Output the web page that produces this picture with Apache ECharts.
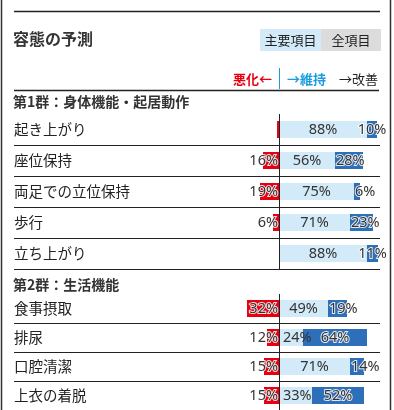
<!DOCTYPE html>
<html><head><meta charset="utf-8">
<script src="https://cdn.jsdelivr.net/npm/echarts@6/dist/echarts.min.js"></script>
<style>html,body{margin:0;padding:0;background:#fff}#c{width:394px;height:410px}</style>
</head><body><div id="c"></div>
<script>
const pageTitle = '容態の予測';
const tabs = ['主要項目', '全項目'];
const legendTexts = ['悪化←', '→維持', '→改善'];

const group1Title = '第1群：身体機能・起居動作';
const group1Items = ['起き上がり', '座位保持', '両足での立位保持', '歩行', '立ち上がり'];
const group1Worse = [2, 16, 19, 6, 0];
const group1Maintain = [88, 56, 75, 71, 88];
const group1Improve = [10, 28, 6, 23, 11];

const group2Title = '第2群：生活機能';
const group2Items = ['食事摂取', '排尿', '口腔清潔', '上衣の着脱'];
const group2Worse = [32, 12, 15, 15];
const group2Maintain = [49, 24, 71, 33];
const group2Improve = [19, 64, 14, 52];

const FONT = "'Noto Sans CJK JP', 'Noto Sans', sans-serif";
const NUMFONT = "'Noto Sans', sans-serif";
const RED = '#e60012', LIGHT = '#d3eaf8', DARK = '#2d6fb8', BLUE_TXT = '#1a9be0';
const LABEL_W = 29;   // approximate width of a "88%" label, in axis units (1 unit = 1px)
const RIGHT_LIMIT = 105;

const chart = echarts.init(document.getElementById('c'), null, {renderer: 'canvas'});

function pct(p) {
  const v = Math.abs(p.value);
  return v >= 5 ? v + '%' : '';
}
const baseLabel = {show: true, color: '#333', fontSize: 14.5, fontFamily: NUMFONT, formatter: pct};
const halo = {textBorderColor: 'rgba(255,255,255,0.85)', textBorderWidth: 2};

function makeSeries(idx, worse, maintain, improve) {
  const stack = 's' + idx;
  const maintainData = maintain.map(v => v < 35
    ? {value: v, label: {position: 'insideLeft', distance: 4}}
    : v);
  const improveData = improve.map((v, i) => {
    if (v >= LABEL_W || maintain[i] + LABEL_W > RIGHT_LIMIT) return v;
    return {value: v, label: {position: 'insideLeft', distance: 1}};
  });
  return [
    {
      type: 'bar', xAxisIndex: idx, yAxisIndex: idx, stack, barWidth: 17,
      data: worse.map(v => -v), itemStyle: {color: RED},
      label: Object.assign({}, baseLabel, halo, {position: 'insideRight', distance: 1}),
      animation: false
    },
    {
      type: 'bar', xAxisIndex: idx, yAxisIndex: idx, stack, barWidth: 17,
      data: maintainData, itemStyle: {color: LIGHT},
      label: Object.assign({}, baseLabel, {position: 'inside'}),
      markLine: {
        silent: true, symbol: ['none', 'none'], animation: false,
        label: {show: false},
        lineStyle: {color: '#222', type: 'solid', width: 1},
        data: [{xAxis: 0}]
      },
      animation: false
    },
    {
      type: 'bar', xAxisIndex: idx, yAxisIndex: idx, stack, barWidth: 17,
      data: improveData, itemStyle: {color: DARK},
      label: Object.assign({}, baseLabel, halo, {position: 'inside'}),
      animation: false
    }
  ];
}

function yAxisFor(idx, items) {
  return {
    type: 'category', gridIndex: idx, data: items, inverse: true,
    axisLine: {show: false, onZero: false}, axisTick: {show: false},
    axisLabel: {align: 'left', margin: 0, color: '#222', fontSize: 14.5, fontFamily: FONT, padding: [3, 0, 0, 0]},
    splitLine: {show: true, showMinLine: false, lineStyle: {color: '#222', width: 1}}
  };
}
function xAxisFor(idx) {
  return {type: 'value', gridIndex: idx, min: -265, max: 101, show: false};
}

const txt = (text, x, y, opts) => ({
  type: 'text', silent: true,
  style: Object.assign({text, x, y, fill: '#222', fontFamily: FONT, fontSize: 13, verticalAlign: 'middle'}, opts || {})
});
const line = (x1, y1, x2, y2, stroke, w) => ({
  type: 'line', silent: true, shape: {x1, y1, x2, y2}, style: {stroke, lineWidth: w}
});

chart.setOption({
  animation: false,
  grid: [
    {left: 14, width: 366, top: 114, height: 155},
    {left: 14, width: 366, top: 294, height: 124}
  ],
  xAxis: [xAxisFor(0), xAxisFor(1)],
  yAxis: [yAxisFor(0, group1Items), yAxisFor(1, group2Items)],
  series: [].concat(
    makeSeries(0, group1Worse, group1Maintain, group1Improve),
    makeSeries(1, group2Worse, group2Maintain, group2Improve)
  ),
  graphic: [
    line(1.5, 0, 1.5, 410, '#333', 1.5),
    line(390.5, 0, 390.5, 410, '#333', 1.5),
    line(14, 11.5, 380, 11.5, '#222', 1.5),
    txt(pageTitle, 13, 39, {fontSize: 16, fontWeight: 'bold', fill: '#333'}),
    {type: 'rect', silent: true, shape: {x: 260, y: 29, width: 61, height: 22}, style: {fill: '#d3eaf8'}},
    {type: 'rect', silent: true, shape: {x: 321, y: 29, width: 60, height: 22}, style: {fill: '#dcdcdc'}},
    txt(tabs[0], 290.5, 40.5, {align: 'center'}),
    txt(tabs[1], 351, 40.5, {align: 'center'}),
    txt(legendTexts[0], 272, 79, {align: 'right', fill: RED, fontWeight: 'bold'}),
    line(279.5, 68, 279.5, 89, BLUE_TXT, 1),
    txt(legendTexts[1], 287, 79, {align: 'left', fill: BLUE_TXT, fontWeight: 'bold'}),
    txt(legendTexts[2], 378, 79, {align: 'right', fill: '#222'}),
    line(14, 90.5, 379, 90.5, '#222', 1.5),
    txt(group1Title, 13, 101.5, {fontSize: 14, fontWeight: 'bold', fill: '#333'}),
    txt(group2Title, 13, 284.5, {fontSize: 14, fontWeight: 'bold', fill: '#333'})
  ]
});
</script></body></html>
